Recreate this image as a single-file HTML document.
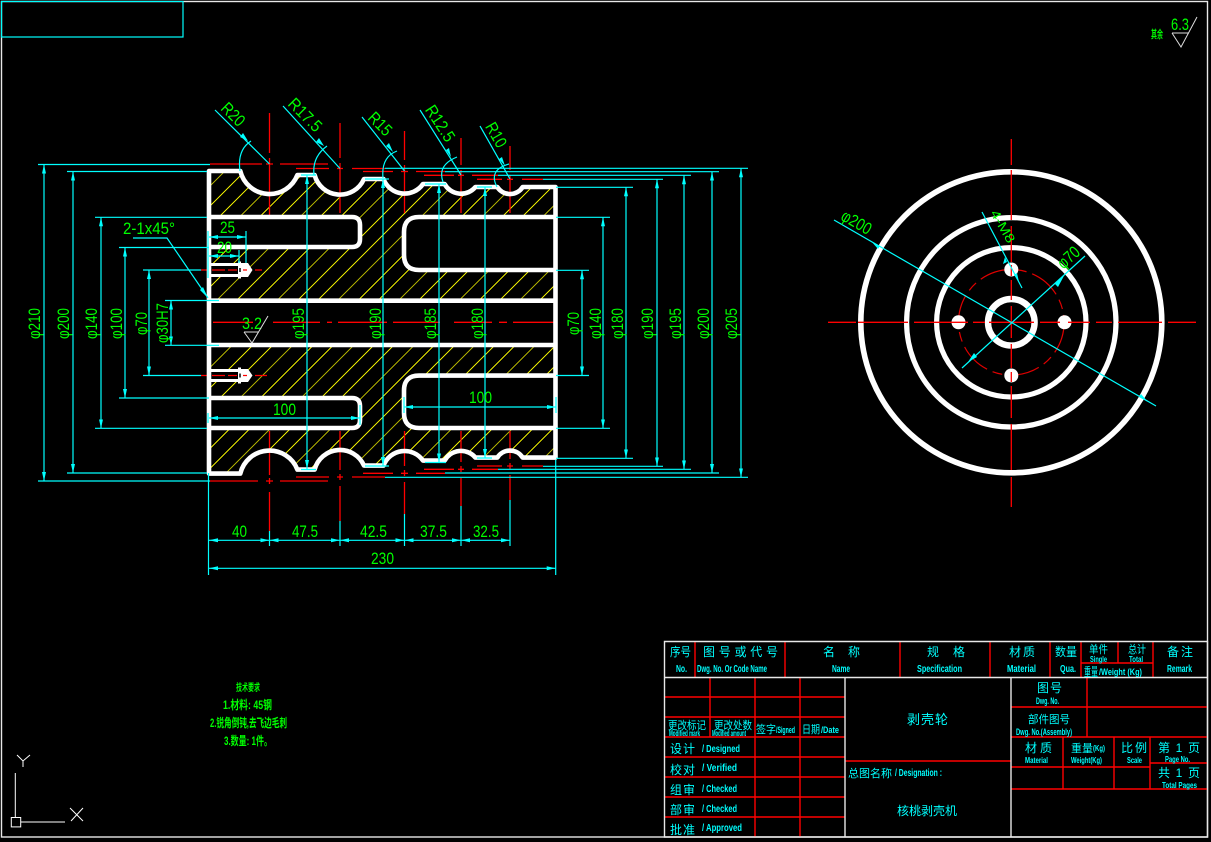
<!DOCTYPE html>
<html><head><meta charset="utf-8"><style>
html,body{margin:0;padding:0;background:#000;width:1211px;height:842px;overflow:hidden}
svg{display:block}
text{font-family:"Liberation Sans","Noto Sans CJK SC",sans-serif}
.d{fill:#0f0;font-size:17px}
.t{fill:#0ff;font-size:12px;font-weight:normal}
.e{fill:#0ff;font-size:10px;font-weight:bold}
.g{fill:#0f0;font-size:12px;font-weight:bold}
.c{stroke:#0ff;stroke-width:1.2;fill:none}
.a{stroke:#0ff;stroke-width:1.2;fill:none;marker-start:url(#ar);marker-end:url(#ar)}
.r{stroke:#f00;stroke-width:1.3;fill:none}
.w{stroke:#fff;stroke-width:4.6;fill:none;stroke-linejoin:round}
.tb{stroke:#f00;stroke-width:1.4;fill:none}
.tw{stroke:#e8e8e8;stroke-width:1.4;fill:none}
</style></head><body>
<svg width="1211" height="842" viewBox="0 0 1211 842" xmlns="http://www.w3.org/2000/svg">
<defs>
<marker id="ar" markerUnits="userSpaceOnUse" markerWidth="10" markerHeight="6" refX="9" refY="3" orient="auto-start-reverse"><path d="M0 1 L9 3 L0 5Z" fill="#0ff"/></marker>
<clipPath id="mat"><path clip-rule="evenodd" d="M209 171 H240.3 A30 30 0 0 0 297.4 175 H314.6 A26.25 26.25 0 0 0 364 179 H383.5 A22.5 22.5 0 0 0 423 184 H444.6 A18.75 18.75 0 0 0 475.4 187 H497.3 A15 15 0 0 0 522.7 187 H555.5 V457.6 H522.7 A15 15 0 0 0 497.3 457.6 H475.4 A18.75 18.75 0 0 0 444.6 460.6 H423 A22.5 22.5 0 0 0 383.5 465.6 H364 A26.25 26.25 0 0 0 314.6 469.6 H297.4 A30 30 0 0 0 240.3 473.6 H209 Z M209 217 H352 Q360 217 360 225 V239 Q360 247 352 247 H209 Z M555.5 217 H419 Q404 217 404 232 V255 Q404 270 419 270 H555.5 Z M209 300.7 H555.5 V345 H209 Z M209 398 H352 Q360 398 360 406 V420 Q360 428 352 428 H209 Z M555.5 375.6 H419 Q404 375.6 404 390.6 V413 Q404 428 419 428 H555.5 Z M209 264 H248 L252 270 L248 276 H209 Z M209 370 H248 L252 376 L248 382 H209 Z"/></clipPath>
</defs>
<rect width="1211" height="842" fill="#000"/>
<!-- frames -->
<rect x="1.5" y="1.5" width="1206" height="835.5" fill="none" stroke="#e8e8e8" stroke-width="1.4"/>
<rect x="1.5" y="1.5" width="181.5" height="35.5" fill="none" stroke="#0ff" stroke-width="1.2"/>

<!-- hatch -->
<g clip-path="url(#mat)" stroke-width="1" shape-rendering="crispEdges" stroke="#e6e600">
<line x1="-104.4" y1="480" x2="215.6" y2="160"/><line x1="-84.2" y1="480" x2="235.8" y2="160" stroke="#aa0"/><line x1="-64" y1="480" x2="256" y2="160"/><line x1="-43.8" y1="480" x2="276.2" y2="160"/><line x1="-23.6" y1="480" x2="296.4" y2="160" stroke="#aa0"/><line x1="-3.4" y1="480" x2="316.6" y2="160"/><line x1="16.8" y1="480" x2="336.8" y2="160"/><line x1="37" y1="480" x2="357" y2="160" stroke="#aa0"/><line x1="57.2" y1="480" x2="377.2" y2="160"/><line x1="77.4" y1="480" x2="397.4" y2="160"/><line x1="97.6" y1="480" x2="417.6" y2="160" stroke="#aa0"/><line x1="117.8" y1="480" x2="437.8" y2="160"/><line x1="138" y1="480" x2="458" y2="160"/><line x1="158.2" y1="480" x2="478.2" y2="160" stroke="#aa0"/><line x1="178.4" y1="480" x2="498.4" y2="160"/><line x1="198.6" y1="480" x2="518.6" y2="160"/><line x1="218.8" y1="480" x2="538.8" y2="160" stroke="#aa0"/><line x1="239" y1="480" x2="559" y2="160"/><line x1="259.2" y1="480" x2="579.2" y2="160"/><line x1="279.4" y1="480" x2="599.4" y2="160" stroke="#aa0"/><line x1="299.6" y1="480" x2="619.6" y2="160"/><line x1="319.8" y1="480" x2="639.8" y2="160"/><line x1="340" y1="480" x2="660" y2="160" stroke="#aa0"/><line x1="360.2" y1="480" x2="680.2" y2="160"/><line x1="380.4" y1="480" x2="700.4" y2="160"/><line x1="400.6" y1="480" x2="720.6" y2="160" stroke="#aa0"/><line x1="420.8" y1="480" x2="740.8" y2="160"/><line x1="441" y1="480" x2="761" y2="160"/><line x1="461.2" y1="480" x2="781.2" y2="160" stroke="#aa0"/><line x1="481.4" y1="480" x2="801.4" y2="160"/><line x1="501.6" y1="480" x2="821.6" y2="160"/><line x1="521.8" y1="480" x2="841.8" y2="160" stroke="#aa0"/><line x1="542" y1="480" x2="862" y2="160"/>
</g>

<!-- red centerlines main view -->
<g class="r">
<path d="M269.5 113V153M269.5 158V215M340 123V158M340 163V213M404.5 131V160M404.5 165V213M461 138V165M461 170V213M510 146V170M510 175V213"/>
<path d="M210 164H262M266 164H273M280 164H328M296 168.5H329M337 168.5H343M352 168.5H385M363 171.5H393M401 171.5H408M416 171.5H445M424 175.3H454M458 175.3H464M472 175.3H498M477 179.3H502M507 179.3H513M522 179.3H543"/>
<path d="M269.5 431V475M269.5 478V484M269.5 492V531M340 431V470M340 474V480M340 486V521M404.5 431V466M404.5 470V476M404.5 482V514M461 431V462M461 466V472M461 478V506M510 431V459M510 463V469M510 475V500"/>
<path d="M210 481H258M266 481H273M280 481H328M296 477H329M337 477H343M352 477H385M363 473.3H393M401 473.3H408M416 473.3H445M424 469.3H454M458 469.3H464M472 469.3H498M477 466H502M507 466H513M522 466H543"/>
<path d="M213 322.3H253M273 322.3H320M327 322.3H332M338 322.3H387M393 322.3H440M454 322.3H492M499 322.3H507M513 322.3H555"/>
<path d="M201 270H207M212 270H225M228 270H237M255 270H262M201 375.5H207M212 375.5H225M228 375.5H237M255 375.5H267"/>
</g>

<!-- outline -->
<path class="w" d="M209 171 H240.3 A30 30 0 0 0 297.4 175 H314.6 A26.25 26.25 0 0 0 364 179 H383.5 A22.5 22.5 0 0 0 423 184 H444.6 A18.75 18.75 0 0 0 475.4 187 H497.3 A15 15 0 0 0 522.7 187 H555.5 V457.6 H522.7 A15 15 0 0 0 497.3 457.6 H475.4 A18.75 18.75 0 0 0 444.6 460.6 H423 A22.5 22.5 0 0 0 383.5 465.6 H364 A26.25 26.25 0 0 0 314.6 469.6 H297.4 A30 30 0 0 0 240.3 473.6 H209 Z"/>
<path class="w" d="M209 217 H352 Q360 217 360 225 V239 Q360 247 352 247 H209"/>
<path class="w" d="M555.5 217 H419 Q404 217 404 232 V255 Q404 270 419 270 H555.5"/>
<path class="w" d="M209 300.7 H555.5 M209 345 H555.5"/>
<path class="w" d="M209 398 H352 Q360 398 360 406 V420 Q360 428 352 428 H209"/>
<path class="w" d="M555.5 375.6 H419 Q404 375.6 404 390.6 V413 Q404 428 419 428 H555.5"/>
<!-- threaded holes -->
<path d="M209 263H238V261.5H241V263H248L252.5 270L248 277H241V278.5H238V277H209V274H238V266H209Z" fill="#fff"/>
<path d="M209 369H238V367.5H241V369H248L252.5 375.5L248 382H241V383.5H238V382H209V379H238V372H209Z" fill="#fff"/>
<path class="r" d="M243 270H247M243 375.5H247"/>
<rect x="239" y="268" width="2" height="4" fill="#444"/>
<rect x="239" y="373.5" width="2" height="4" fill="#444"/>

<!-- right view -->
<g fill="none" stroke="#fff">
<circle cx="1011.3" cy="322.3" r="150.5" stroke-width="5.6"/>
<circle cx="1011.3" cy="322.3" r="104.7" stroke-width="5.2"/>
<circle cx="1011.3" cy="322.3" r="74.7" stroke-width="5.2"/>
<circle cx="1011.3" cy="322.3" r="23.3" stroke-width="6.4"/>
</g>
<circle cx="1011.3" cy="322.3" r="52.8" fill="none" stroke="#e00000" stroke-width="1.2" stroke-dasharray="32 6 10 6"/>
<g fill="#fff">
<circle cx="1011.3" cy="269.5" r="7"/><circle cx="1011.3" cy="375.5" r="7"/><circle cx="958.5" cy="322.3" r="7"/><circle cx="1064.5" cy="322.3" r="7"/>
</g>
<path class="r" d="M1011.3 139V165M1011.3 170V220M1011.3 226V262M1011.3 265V276M1011.3 280V300M1011.3 306V338M1011.3 344V368M1011.3 372V382M1011.3 386V418M1011.3 424V470M1011.3 477V507"/>
<path class="r" d="M828 322.3H856M858 322.3H908M914 322.3H968M973 322.3H985M989 322.3H1034M1040 322.3H1060M1068 322.3H1090M1096 322.3H1112M1118 322.3H1162M1168 322.3H1196"/>
<path class="c" d="M834 220 L1156 406"/>
<path d="M871 241 L880 246 L878 249Z M1148 402 L1139 397 L1141 394Z" fill="#0ff"/>
<line class="c" x1="962" y1="368" x2="1085" y2="256"/>
<path d="M1065 274 L1055 284 L1058 287Z M968 362 L974 353 L977 357Z" fill="#0ff"/>
<line class="c" x1="982" y1="212" x2="1022" y2="288"/>
<path d="M1005 257 L1003 264 L1007 262Z M1019 282 L1014 275 L1017 273Z" fill="#0ff"/>
<text class="d" transform="translate(839.8,219.2) rotate(30)" textLength="32" lengthAdjust="spacingAndGlyphs">φ200</text>
<text class="d" transform="translate(1063.4,269.7) rotate(-42)" textLength="24" lengthAdjust="spacingAndGlyphs">φ70</text>
<text class="d" style="font-size:13px" transform="translate(990,213) rotate(60)" textLength="36" lengthAdjust="spacingAndGlyphs">4-M8</text>

<!-- dim lines -->
<g class="c">
<path d="M38 164.5H210M67 171.5H207M95 217.3H207M119 247.5H209M143 270H201M165 300.5H219M165 345.3H219M143 375.5H201M119 398H209M95 428.3H207M67 473H207M38 481H210"/>
<path d="M385 168.3H748M445 171.7H719M498 175.3H691M543 179.3H663M556 187.3H633M556 217.3H610M556 270.3H589M556 375.5H589M556 428.3H610M556 458.3H633M543 466.3H663M498 469.3H691M445 473H719M385 477.3H748"/>
<path d="M301 175H316M365 179H389M425 184H446M477 187H492M301 469.5H316M365 466H389M425 462.5H446M477 458H492"/>
<path d="M208.5 473V575M555.7 460V575M269.5 531V546M340 521V546M404.5 514V546M461 506V546M510 500V546"/>
<path d="M208 231V278M246 231V263M239 250V263M208 413V423M360 405V425M404 397V413M556 397V413"/>
<path d="M133 238H167L208 298"/>
<path d="M215 110L269.5 164M283 106L340 168.5M362 117L404.5 171M420 110L461 175M480 126L510 179"/>
<path d="M240 171Q237 150 251 141M314 175Q312 157 327 146M383 178Q381 157 397 151M443 182Q437 165 457 157M497 187Q488 170 509 164"/>
</g>
<path d="M208 298 L200 290 L203 287Z M248 141 L240 137 L243 133Z M324 146 L316 142 L319 138Z M393 152 L386 146 L389 143Z M451 157 L446 150 L449 148Z M505 166 L499 159 L502 157Z" fill="#0ff"/>
<g class="a">
<line x1="44" y1="164.5" x2="44" y2="481"/><line x1="73" y1="171.5" x2="73" y2="473"/><line x1="101" y1="217.3" x2="101" y2="428.3"/><line x1="125" y1="247.5" x2="125" y2="398"/><line x1="149" y1="270" x2="149" y2="375.5"/><line x1="171" y1="300.5" x2="171" y2="345.3"/>
<line x1="741" y1="168.3" x2="741" y2="477.3"/><line x1="712" y1="171.7" x2="712" y2="473"/><line x1="684" y1="175.3" x2="684" y2="469.3"/><line x1="657" y1="179.3" x2="657" y2="466.3"/><line x1="626" y1="187.3" x2="626" y2="458.3"/><line x1="603" y1="217.3" x2="603" y2="428.3"/><line x1="582" y1="270.3" x2="582" y2="375.5"/>
<line x1="307" y1="175" x2="307" y2="469"/><line x1="383" y1="179" x2="383" y2="466"/><line x1="439" y1="184" x2="439" y2="462.5"/><line x1="485" y1="187" x2="485" y2="458"/>
<line x1="209" y1="540.3" x2="269.5" y2="540.3"/><line x1="269.5" y1="540.3" x2="340" y2="540.3"/><line x1="340" y1="540.3" x2="404.5" y2="540.3"/><line x1="404.5" y1="540.3" x2="461" y2="540.3"/><line x1="461" y1="540.3" x2="510" y2="540.3"/>
<line x1="209" y1="568.3" x2="555.7" y2="568.3"/>
<line x1="209" y1="237" x2="246" y2="237"/><line x1="209" y1="256" x2="239" y2="256"/>
<line x1="209" y1="418" x2="360" y2="418"/><line x1="404" y1="407" x2="556" y2="407"/>
</g>

<!-- dim text -->
<g class="d">
<text transform="translate(40,339) rotate(-90)" textLength="31" lengthAdjust="spacingAndGlyphs">φ210</text>
<text transform="translate(69,339) rotate(-90)" textLength="31" lengthAdjust="spacingAndGlyphs">φ200</text>
<text transform="translate(97,339) rotate(-90)" textLength="31" lengthAdjust="spacingAndGlyphs">φ140</text>
<text transform="translate(122,339) rotate(-90)" textLength="31" lengthAdjust="spacingAndGlyphs">φ100</text>
<text transform="translate(147,335) rotate(-90)" textLength="23" lengthAdjust="spacingAndGlyphs">φ70</text>
<text transform="translate(168,343) rotate(-90)" textLength="40" lengthAdjust="spacingAndGlyphs">φ30H7</text>
<text transform="translate(304,339) rotate(-90)" textLength="31" lengthAdjust="spacingAndGlyphs">φ195</text>
<text transform="translate(381,339) rotate(-90)" textLength="31" lengthAdjust="spacingAndGlyphs">φ190</text>
<text transform="translate(436,339) rotate(-90)" textLength="31" lengthAdjust="spacingAndGlyphs">φ185</text>
<text transform="translate(483,339) rotate(-90)" textLength="31" lengthAdjust="spacingAndGlyphs">φ180</text>
<text transform="translate(579,335) rotate(-90)" textLength="23" lengthAdjust="spacingAndGlyphs">φ70</text>
<text transform="translate(601,339) rotate(-90)" textLength="31" lengthAdjust="spacingAndGlyphs">φ140</text>
<text transform="translate(623,339) rotate(-90)" textLength="31" lengthAdjust="spacingAndGlyphs">φ180</text>
<text transform="translate(653,339) rotate(-90)" textLength="31" lengthAdjust="spacingAndGlyphs">φ190</text>
<text transform="translate(681,339) rotate(-90)" textLength="31" lengthAdjust="spacingAndGlyphs">φ195</text>
<text transform="translate(709,339) rotate(-90)" textLength="31" lengthAdjust="spacingAndGlyphs">φ200</text>
<text transform="translate(737,339) rotate(-90)" textLength="31" lengthAdjust="spacingAndGlyphs">φ205</text>
<text transform="translate(219.9,109.2) rotate(45)" textLength="26" lengthAdjust="spacingAndGlyphs">R20</text>
<text transform="translate(287,104.8) rotate(45)" textLength="40" lengthAdjust="spacingAndGlyphs">R17.5</text>
<text transform="translate(366.9,118.7) rotate(45)" textLength="26" lengthAdjust="spacingAndGlyphs">R15</text>
<text transform="translate(424.5,109.7) rotate(57)" textLength="40" lengthAdjust="spacingAndGlyphs">R12.5</text>
<text transform="translate(484.7,126.5) rotate(60)" textLength="26" lengthAdjust="spacingAndGlyphs">R10</text>
<text x="123" y="234" textLength="52" lengthAdjust="spacingAndGlyphs">2-1x45°</text>
<text x="220" y="233" textLength="15" lengthAdjust="spacingAndGlyphs">25</text>
<text x="217" y="253" textLength="15" lengthAdjust="spacingAndGlyphs">20</text>
<text x="273" y="415" textLength="23" lengthAdjust="spacingAndGlyphs">100</text>
<text x="469" y="403" textLength="23" lengthAdjust="spacingAndGlyphs">100</text>
<text x="232" y="537" textLength="15" lengthAdjust="spacingAndGlyphs">40</text>
<text x="292" y="537" textLength="26" lengthAdjust="spacingAndGlyphs">47.5</text>
<text x="360" y="537" textLength="27" lengthAdjust="spacingAndGlyphs">42.5</text>
<text x="420" y="537" textLength="27" lengthAdjust="spacingAndGlyphs">37.5</text>
<text x="473" y="537" textLength="26" lengthAdjust="spacingAndGlyphs">32.5</text>
<text x="371" y="564" textLength="23" lengthAdjust="spacingAndGlyphs">230</text>
<text x="242" y="329" textLength="20" lengthAdjust="spacingAndGlyphs">3.2</text>
<text x="1171" y="30" textLength="18" lengthAdjust="spacingAndGlyphs">6.3</text>
</g>
<!-- roughness -->
<path d="M244 332H259M244 332L252 343L268 316" fill="none" stroke="#ddd" stroke-width="1"/>
<path d="M1172 33H1189M1172 33L1181 47L1197 17" fill="none" stroke="#ddd" stroke-width="1"/>
<text class="g" style="font-size:11px" x="1151" y="38" textLength="12" lengthAdjust="spacingAndGlyphs">其余</text>

<!-- tech req -->
<text class="g" style="font-size:10px" x="236" y="691" textLength="24" lengthAdjust="spacingAndGlyphs">技术要求</text>
<text class="g" x="223" y="709" textLength="49" lengthAdjust="spacingAndGlyphs">1.材料: 45钢</text>
<text class="g" x="210" y="727" textLength="77" lengthAdjust="spacingAndGlyphs">2.锐角倒钝,去飞边毛刺</text>
<text class="g" x="224" y="745" textLength="48" lengthAdjust="spacingAndGlyphs">3.数量: 1件。</text>

<!-- UCS -->
<path d="M15.3 773V817M20.7 822H65M17 755L23 761L30 755M23 761V767M70 808L83 821M83 808L71 821" fill="none" stroke="#fff" stroke-width="1"/>
<rect x="11.3" y="817.5" width="9.4" height="9.4" fill="none" stroke="#fff" stroke-width="1"/>

<!-- title table -->
<g class="tb">
<path d="M695 641.5V677.5M785 641.5V677.5M900 641.5V677.5M990 641.5V677.5M1050 641.5V677.5M1081 641.5V677.5M1153 641.5V677.5M1081 663H1153M1118 641.5V663"/>
<path d="M710 677.5V737M755 677.5V837M800 677.5V837"/>
<path d="M665 697H845M665 717H845M665 737H845M665 757H845M665 777H845M665 797H845M665 817H845"/>
<path d="M845 761H1011"/>
<path d="M1087 677.5V737M1011 707H1207M1011 737H1207M1011 767H1150M1063 737V789M1114 737V789M1150 737V789M1150 763H1207M1011 789H1207"/>
</g>
<g class="tw">
<path d="M664.5 641.5H1207.5V837H664.5ZM664.5 677.5H1207.5M845 677.5V837M1011 677.5V837"/>
</g>

<g class="t">
<text x="670" y="656" textLength="21" lengthAdjust="spacingAndGlyphs">序号</text>
<text x="703" y="656" textLength="75" lengthAdjust="spacing">图号或代号</text>
<text x="823" y="656" textLength="37" lengthAdjust="spacing">名称</text>
<text x="927" y="656" textLength="38" lengthAdjust="spacing">规格</text>
<text x="1009" y="656" textLength="26" lengthAdjust="spacing">材质</text>
<text x="1055" y="656" textLength="22" lengthAdjust="spacingAndGlyphs">数量</text>
<text x="1167" y="656" textLength="26" lengthAdjust="spacing">备注</text>
<text x="1089" y="653" textLength="19" lengthAdjust="spacingAndGlyphs" style="font-size:11px">单件</text>
<text x="1128" y="653" textLength="18" lengthAdjust="spacingAndGlyphs" style="font-size:11px">总计</text>
<text x="1084" y="676" textLength="14" lengthAdjust="spacingAndGlyphs" style="font-size:12px">重量</text>
<text x="668" y="729" textLength="38" lengthAdjust="spacingAndGlyphs" style="font-size:11px">更改标记</text>
<text x="714" y="729" textLength="38" lengthAdjust="spacingAndGlyphs" style="font-size:11px">更改处数</text>
<text x="756" y="733" textLength="20" lengthAdjust="spacingAndGlyphs" style="font-size:11px">签字</text>
<text x="802" y="733" textLength="18" lengthAdjust="spacingAndGlyphs" style="font-size:11px">日期</text>
<text x="670" y="753" textLength="25" lengthAdjust="spacing">设计</text>
<text x="670" y="774" textLength="25" lengthAdjust="spacing">校对</text>
<text x="670" y="794" textLength="25" lengthAdjust="spacing">组审</text>
<text x="670" y="814" textLength="25" lengthAdjust="spacing">部审</text>
<text x="670" y="834" textLength="25" lengthAdjust="spacing">批准</text>
<text x="907" y="724" textLength="41" lengthAdjust="spacing" style="font-size:13px">剥壳轮</text>
<text x="848" y="777" textLength="44" lengthAdjust="spacingAndGlyphs" style="font-size:11px">总图名称</text>
<text x="897" y="815" textLength="60" lengthAdjust="spacing">核桃剥壳机</text>
<text x="1037" y="692" textLength="25" lengthAdjust="spacing">图号</text>
<text x="1028" y="723" textLength="42" lengthAdjust="spacingAndGlyphs" style="font-size:11px">部件图号</text>
<text x="1025" y="752" textLength="27" lengthAdjust="spacing">材质</text>
<text x="1071" y="752" textLength="22" lengthAdjust="spacingAndGlyphs" style="font-size:11px">重量</text>
<text x="1121" y="752" textLength="26" lengthAdjust="spacing">比例</text>
<text x="1158" y="752" textLength="42" lengthAdjust="spacing">第 1 页</text>
<text x="1158" y="777" textLength="42" lengthAdjust="spacing">共 1 页</text>
</g>
<g class="e">
<text x="676" y="672" textLength="11" lengthAdjust="spacingAndGlyphs">No.</text>
<text x="697" y="672" textLength="70" lengthAdjust="spacingAndGlyphs">Dwg. No. Or Code Name</text>
<text x="832" y="672" textLength="18" lengthAdjust="spacingAndGlyphs">Name</text>
<text x="917" y="672" textLength="45" lengthAdjust="spacingAndGlyphs">Specification</text>
<text x="1007" y="672" textLength="29" lengthAdjust="spacingAndGlyphs">Material</text>
<text x="1060" y="672" textLength="16" lengthAdjust="spacingAndGlyphs">Qua.</text>
<text x="1090" y="662" textLength="17" lengthAdjust="spacingAndGlyphs" style="font-size:8px">Single</text>
<text x="1129" y="662" textLength="14" lengthAdjust="spacingAndGlyphs" style="font-size:8px">Total</text>
<text x="1099" y="675" textLength="43" lengthAdjust="spacingAndGlyphs" style="font-size:9px">/Weight (Kg)</text>
<text x="1167" y="672" textLength="25" lengthAdjust="spacingAndGlyphs">Remark</text>
<text x="669" y="736" textLength="31" lengthAdjust="spacingAndGlyphs" style="font-size:8px">Modified mark</text>
<text x="712" y="736" textLength="34" lengthAdjust="spacingAndGlyphs" style="font-size:8px">Modified amount</text>
<text x="776" y="733" textLength="19" lengthAdjust="spacingAndGlyphs" style="font-size:9px">/Signed</text>
<text x="821" y="733" textLength="18" lengthAdjust="spacingAndGlyphs" style="font-size:9px">/Date</text>
<text x="702" y="752" textLength="38" lengthAdjust="spacingAndGlyphs">/ Designed</text>
<text x="702" y="771" textLength="35" lengthAdjust="spacingAndGlyphs">/ Verified</text>
<text x="702" y="792" textLength="35" lengthAdjust="spacingAndGlyphs">/ Checked</text>
<text x="702" y="812" textLength="35" lengthAdjust="spacingAndGlyphs">/ Checked</text>
<text x="702" y="831" textLength="40" lengthAdjust="spacingAndGlyphs">/ Approved</text>
<text x="895" y="776" textLength="47" lengthAdjust="spacingAndGlyphs">/ Designation :</text>
<text x="1036" y="704" textLength="23" lengthAdjust="spacingAndGlyphs" style="font-size:9px">Dwg. No.</text>
<text x="1016" y="735" textLength="56" lengthAdjust="spacingAndGlyphs" style="font-size:9px">Dwg. No.(Assembly)</text>
<text x="1025" y="763" textLength="23" lengthAdjust="spacingAndGlyphs" style="font-size:8px">Material</text>
<text x="1093" y="751" textLength="12" lengthAdjust="spacingAndGlyphs" style="font-size:8px">(Kg)</text>
<text x="1071" y="763" textLength="31" lengthAdjust="spacingAndGlyphs" style="font-size:8px">Weight(Kg)</text>
<text x="1127" y="763" textLength="15" lengthAdjust="spacingAndGlyphs" style="font-size:8px">Scale</text>
<text x="1165" y="762" textLength="25" lengthAdjust="spacingAndGlyphs" style="font-size:8px">Page No.</text>
<text x="1162" y="788" textLength="35" lengthAdjust="spacingAndGlyphs" style="font-size:8px">Total Pages</text>
</g>
</svg>
</body></html>
